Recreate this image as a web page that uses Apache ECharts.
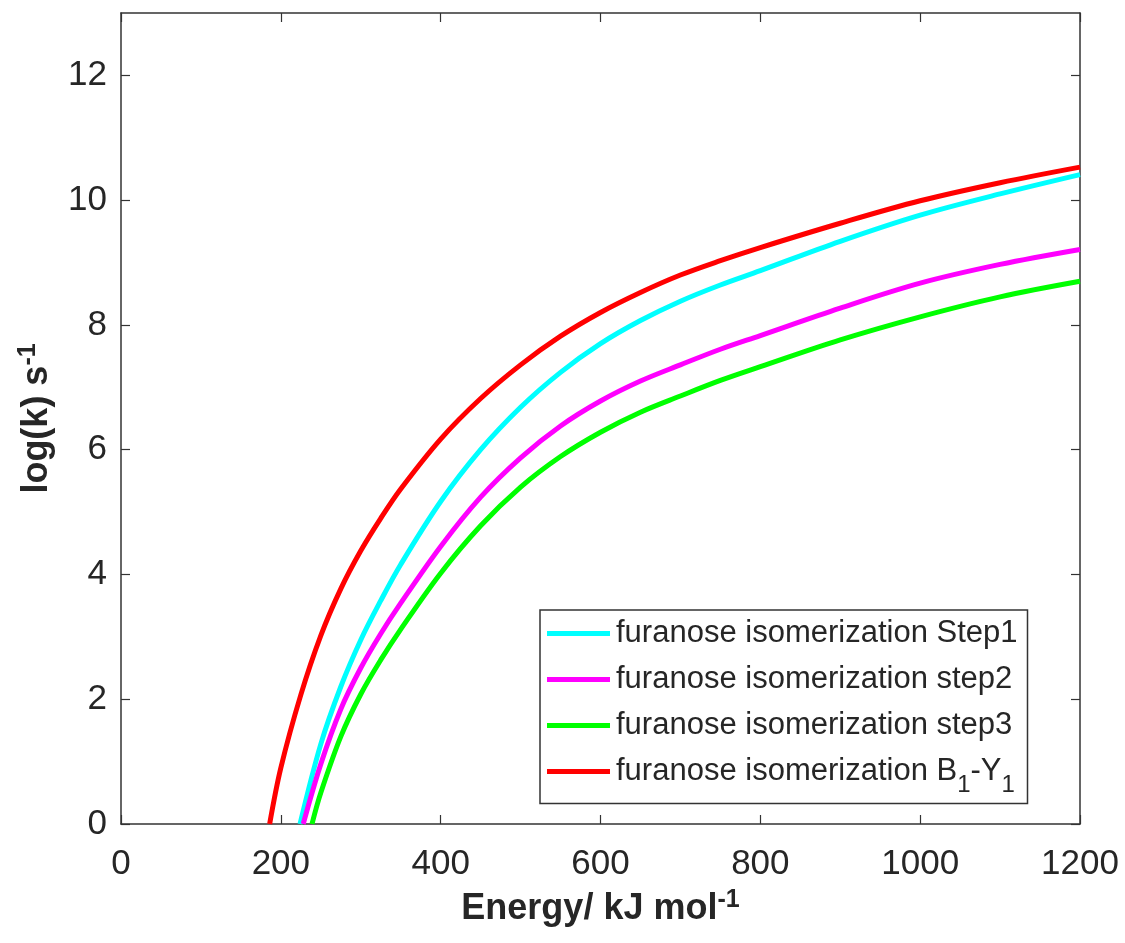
<!DOCTYPE html>
<html>
<head>
<meta charset="utf-8">
<title>log(k) vs Energy</title>
<script src="https://cdn.jsdelivr.net/npm/echarts@6/dist/echarts.min.js"></script>
<style>
  html, body { margin: 0; padding: 0; background: #ffffff; }
  #chart { width: 1125px; height: 943px; }
</style>
</head>
<body>
<div id="chart"></div>
<script>
// Rate constant curves: [energy (kJ/mol), log(k)]
const step1 = [
  [224, 0], [250, 1.28], [275, 2.2], [300, 2.95], [325, 3.58], [350, 4.16],
  [400, 5.17], [450, 6.00], [500, 6.68], [550, 7.24], [600, 7.70], [650, 8.07],
  [700, 8.38], [750, 8.64], [800, 8.87], [900, 9.34], [1000, 9.76],
  [1100, 10.10], [1200, 10.41]
];
const step2 = [
  [228, 0], [250, 0.96], [275, 1.84], [300, 2.50], [325, 3.05], [350, 3.54],
  [400, 4.45], [450, 5.24], [500, 5.87], [550, 6.38], [600, 6.78], [650, 7.10],
  [700, 7.36], [750, 7.61], [800, 7.83], [900, 8.27], [1000, 8.67],
  [1100, 8.97], [1200, 9.21]
];
const step3 = [
  [239, 0], [250, 0.5], [275, 1.4], [300, 2.08], [325, 2.63], [350, 3.12],
  [400, 4.02], [450, 4.78], [500, 5.40], [550, 5.89], [600, 6.28], [650, 6.60],
  [700, 6.86], [750, 7.11], [800, 7.33], [900, 7.76], [1000, 8.13],
  [1100, 8.45], [1200, 8.70]
];
const b1y1 = [
  [186, 0], [200, 0.9], [225, 2.07], [250, 3.02], [275, 3.77], [300, 4.38],
  [325, 4.90], [350, 5.37], [400, 6.17], [450, 6.82], [500, 7.36], [550, 7.82],
  [600, 8.20], [650, 8.52], [700, 8.80], [750, 9.03], [800, 9.24], [900, 9.63],
  [1000, 9.99], [1100, 10.28], [1200, 10.53]
];

const seriesNames = [
  'furanose isomerization Step1',
  'furanose isomerization step2',
  'furanose isomerization step3',
  'furanose isomerization B1-Y1'
];
const seriesColors = ['#00FFFF', '#FF00FF', '#00FF00', '#FF0000'];
const seriesData = [step1, step2, step3, b1y1];

const xTicks = [0, 200, 400, 600, 800, 1000, 1200];
const yTicks = [0, 2, 4, 6, 8, 10, 12];

const axisColor = '#333333';
const labelColor = '#262626';
const fontFamily = 'Liberation Sans, Arial, Helvetica, sans-serif';

function tickStyle(values) {
  return { show: true, inside: true, length: 9, customValues: values, lineStyle: { color: axisColor, width: 1.2 } };
}

function boxAxis(extra) {
  return Object.assign({
    type: 'value',
    axisLine: { show: true, onZero: false, lineStyle: { color: axisColor, width: 1.5 } },
    splitLine: { show: false }
  }, extra);
}

const nameRich = {
  t: { fontSize: 36, fontWeight: 'bold', color: labelColor, fontFamily: fontFamily },
  sup: { fontSize: 25, fontWeight: 'bold', color: labelColor, fontFamily: fontFamily, verticalAlign: 'top', padding: [0, 0, 18, 0] }
};

const legendRich = {
  t: { fontSize: 31, color: labelColor, fontFamily: fontFamily },
  sub: { fontSize: 24, color: labelColor, fontFamily: fontFamily, verticalAlign: 'bottom', padding: [28, 0, 0, 0] }
};

const chart = echarts.init(document.getElementById('chart'), null, { renderer: 'canvas' });

const option = {
  backgroundColor: '#ffffff',
  animation: false,
  grid: { left: 121, right: 45, top: 13, bottom: 119, containLabel: false, outerBoundsMode: 'none' },
  xAxis: [
    boxAxis({
      position: 'bottom', min: 0, max: 1200,
      axisTick: tickStyle(xTicks),
      axisLabel: {
        customValues: xTicks, fontSize: 35, color: labelColor, fontFamily: fontFamily, margin: 23,
        formatter: function (v) { return String(v); }
      },
      name: '{t|Energy/ kJ mol}{sup|-1}',
      nameLocation: 'middle',
      nameGap: 64,
      nameTextStyle: { fontSize: 36, fontWeight: 'bold', color: labelColor, fontFamily: fontFamily, rich: nameRich }
    }),
    boxAxis({
      position: 'top', min: 0, max: 1200,
      axisTick: tickStyle(xTicks),
      axisLabel: { show: false }
    })
  ],
  yAxis: [
    boxAxis({
      position: 'left', min: 0, max: 13,
      axisTick: tickStyle(yTicks),
      axisLabel: {
        customValues: yTicks, fontSize: 35, color: labelColor, fontFamily: fontFamily, margin: 14,
        formatter: function (v) { return String(v); }
      },
      name: '{t|log(k) s}{sup|-1}',
      nameLocation: 'middle',
      nameGap: 62,
      nameRotate: 90,
      nameTextStyle: { fontSize: 36, fontWeight: 'bold', color: labelColor, fontFamily: fontFamily, rich: nameRich }
    }),
    boxAxis({
      position: 'right', min: 0, max: 13,
      axisTick: tickStyle(yTicks),
      axisLabel: { show: false }
    })
  ],
  legend: {
    orient: 'vertical',
    left: 540,
    top: 610,
    padding: [8, 10, 6, 7],
    itemGap: 15,
    itemWidth: 63,
    itemHeight: 5,
    icon: 'rect',
    backgroundColor: '#ffffff',
    borderColor: '#333333',
    borderWidth: 1.5,
    borderRadius: 0,
    data: seriesNames,
    formatter: function (name) {
      if (name.indexOf('B1-Y1') >= 0) {
        return '{t|furanose isomerization B}{sub|1}{t|-Y}{sub|1}';
      }
      return '{t|' + name + '}';
    },
    textStyle: {
      fontSize: 31, color: labelColor, fontFamily: fontFamily, padding: [0, 0, 0, 1],
      rich: legendRich
    }
  },
  series: seriesNames.map(function (name, i) {
    return {
      name: name,
      type: 'line',
      xAxisIndex: 0,
      yAxisIndex: 0,
      data: seriesData[i],
      smooth: 0.35,
      symbol: 'none',
      lineStyle: { color: seriesColors[i], width: 5 },
      itemStyle: { color: seriesColors[i] },
      clip: true
    };
  })
};

chart.setOption(option);
</script>
</body>
</html>
